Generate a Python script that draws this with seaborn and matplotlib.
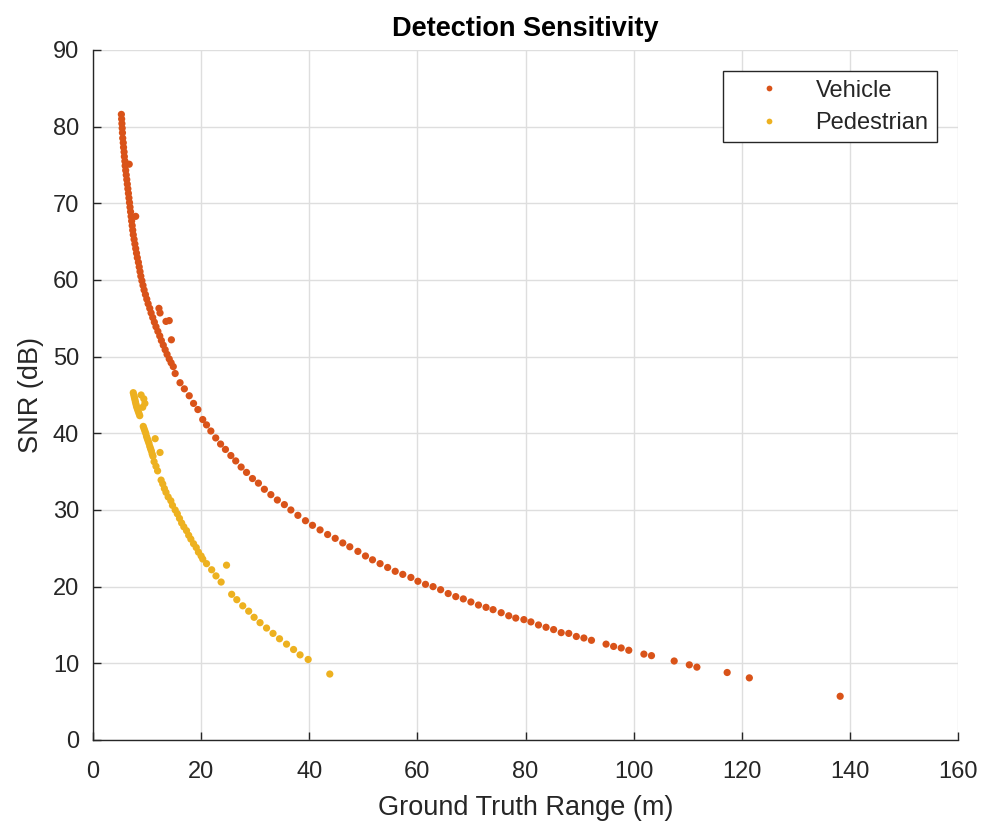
import numpy as np
import pandas as pd
import seaborn as sns
import matplotlib.pyplot as plt

# vehicle detections: ground truth range (m) and SNR (dB)
veh_range = [5.25, 5.3, 5.35, 5.4, 5.45, 5.5, 5.6, 5.65, 5.75, 5.8, 5.9, 5.95,
             6.05, 6.15, 6.25, 6.35, 6.45, 6.55, 6.65, 6.75, 6.85, 6.95, 7.05,
             7.15, 7.25, 7.35, 7.45, 7.6, 7.75, 7.9, 8.05, 8.2, 8.4, 8.55, 8.7,
             8.85, 9.05, 9.25, 9.45, 9.7, 9.95, 10.2, 10.5, 10.75, 11.05, 11.35,
             11.65, 12.0, 12.35, 12.65, 13.0, 13.35, 13.7, 14.1, 14.45, 14.85,
             15.2, 16.1, 16.9, 17.8, 18.6, 19.4, 20.3, 21.0, 21.8, 22.7, 23.6,
             24.5, 25.5, 26.4, 27.4, 28.4, 29.5, 30.6, 31.7, 32.9, 34.1, 35.4,
             36.6, 37.9, 39.3, 40.6, 42.0, 43.4, 44.8, 46.2, 47.5, 49.0, 50.4,
             51.7, 53.1, 54.5, 55.9, 57.3, 58.8, 60.1, 61.5, 62.9, 64.3, 65.7,
             67.1, 68.5, 69.9, 71.3, 72.7, 74.0, 75.5, 76.9, 78.2, 79.7, 81.0,
             82.4, 83.8, 85.2, 86.6, 88.0, 89.4, 90.8, 92.2, 94.9, 96.3, 97.7,
             99.1, 101.9, 103.3, 107.5, 110.3, 111.7, 117.3, 121.4, 138.2,
             6.7, 7.9, 12.2, 12.4, 13.5, 14.1, 14.5]
veh_snr = [81.6, 81.0, 80.4, 79.8, 79.2, 78.5, 77.9, 77.3, 76.7, 76.1, 75.5, 74.9,
           74.3, 73.7, 73.1, 72.5, 71.9, 71.3, 70.7, 70.1, 69.5, 68.9, 68.3,
           67.7, 67.1, 66.5, 65.9, 65.3, 64.7, 64.1, 63.5, 62.9, 62.3, 61.7, 61.1,
           60.5, 59.9, 59.3, 58.7, 58.1, 57.5, 56.9, 56.3, 55.7, 55.1, 54.5,
           53.9, 53.3, 52.7, 52.1, 51.5, 50.9, 50.3, 49.7, 49.2, 48.7,
           47.8, 46.6, 45.8, 44.9, 43.9, 43.1, 41.8, 41.1, 40.3, 39.4, 38.6,
           37.9, 37.1, 36.4, 35.6, 34.9, 34.1, 33.5, 32.7, 32.0, 31.3, 30.7,
           30.0, 29.3, 28.6, 28.0, 27.4, 26.8, 26.3, 25.7, 25.2, 24.6, 24.0,
           23.5, 23.0, 22.5, 22.0, 21.6, 21.2, 20.7, 20.3, 20.0, 19.6, 19.1,
           18.7, 18.4, 18.0, 17.6, 17.3, 17.0, 16.6, 16.2, 15.9, 15.7, 15.4,
           15.0, 14.7, 14.4, 14.0, 13.9, 13.5, 13.3, 13.0, 12.5, 12.2, 12.0,
           11.7, 11.2, 11.0, 10.3, 9.8, 9.5, 8.8, 8.1, 5.7,
           75.1, 68.3, 56.3, 55.7, 54.6, 54.7, 52.2]

# pedestrian detections
ped_range = [7.45, 7.55, 7.65, 7.75, 7.85, 7.95, 8.05, 8.2, 8.35, 8.5, 8.65,
             9.3, 9.45, 9.6, 9.75, 9.9, 10.05, 10.2, 10.35, 10.5, 10.65, 10.8,
             10.95, 11.1, 11.3, 11.65, 11.95, 12.6, 12.9, 13.2, 13.5, 13.9, 14.4,
             14.7, 15.2, 15.6, 16.0, 16.4, 16.8, 17.3, 17.7, 18.1, 18.6, 19.1,
             19.5, 20.0, 20.3, 21.0, 21.95, 22.75, 23.7, 25.65, 26.6, 27.7, 28.8,
             29.8, 30.9, 32.1, 33.3, 34.5, 35.8, 37.1, 38.3, 39.8, 43.8,
             8.9, 9.4, 9.6, 9.2, 11.5, 12.4, 24.7]
ped_snr = [45.3, 45.0, 44.7, 44.4, 44.1, 43.8, 43.5, 43.2, 42.9, 42.6, 42.3,
           40.9, 40.6, 40.3, 40.0, 39.6, 39.3, 39.0, 38.7, 38.3, 38.0, 37.7,
           37.3, 37.0, 36.3, 35.7, 35.1, 33.9, 33.4, 32.8, 32.3, 31.7, 31.2,
           30.6, 30.0, 29.5, 28.9, 28.3, 27.8, 27.3, 26.7, 26.2, 25.6, 25.1,
           24.5, 24.0, 23.6, 23.0, 22.2, 21.4, 20.6, 19.0, 18.3, 17.5, 16.8,
           16.0, 15.3, 14.6, 13.9, 13.2, 12.5, 11.8, 11.1, 10.5, 8.6,
           45.0, 44.5, 43.9, 43.4, 39.3, 37.5, 22.8]

df = pd.concat([
    pd.DataFrame({"Range": veh_range, "SNR": veh_snr, "Class": "Vehicle"}),
    pd.DataFrame({"Range": ped_range, "SNR": ped_snr, "Class": "Pedestrian"}),
])

sns.set_theme(style="white")
plt.rcParams["font.family"] = ["Liberation Sans", "DejaVu Sans"]

fig = plt.figure(figsize=(9.84, 8.21), dpi=100)
ax = fig.add_axes([0.0945, 0.0987, 0.8791, 0.8404])

ax.grid(True, color="#dedede", linewidth=1.0, zorder=0)
ax.set_axisbelow(True)

sns.scatterplot(data=df, x="Range", y="SNR", hue="Class",
                palette={"Vehicle": "#D95319", "Pedestrian": "#EDB120"},
                s=27, linewidth=0, ax=ax, zorder=3)

ax.set_xlim(0, 160)
ax.set_ylim(0, 90)
ax.set_xticks(np.arange(0, 161, 20))
ax.set_yticks(np.arange(0, 91, 10))

for side in ["top", "right"]:
    ax.spines[side].set_visible(False)
for side in ["left", "bottom"]:
    ax.spines[side].set_color("#262626")
    ax.spines[side].set_linewidth(1.0)

ax.tick_params(direction="in", length=6, width=1, colors="#262626",
               labelsize=17, left=True, bottom=True)
ax.tick_params(axis="x", pad=15)
ax.tick_params(axis="y", pad=10)

ax.set_xlabel("Ground Truth Range (m)", fontsize=19.5, color="#262626", labelpad=9)
ax.set_ylabel("SNR (dB)", fontsize=19.5, color="#262626", labelpad=6.5)
ax.set_title("Detection Sensitivity", fontsize=19.5, fontweight="bold",
             color="black", pad=10)

leg = ax.legend(loc="upper right", fontsize=17, frameon=True, fancybox=False,
                edgecolor="#262626", framealpha=1, borderpad=0.35,
                handlelength=3.2, handletextpad=0.35, labelspacing=0.45,
                borderaxespad=0.9, markerscale=0.8)
leg.get_frame().set_linewidth(1.0)
for t in leg.get_texts():
    t.set_color("#262626")

fig.savefig("out.png", dpi=100)
